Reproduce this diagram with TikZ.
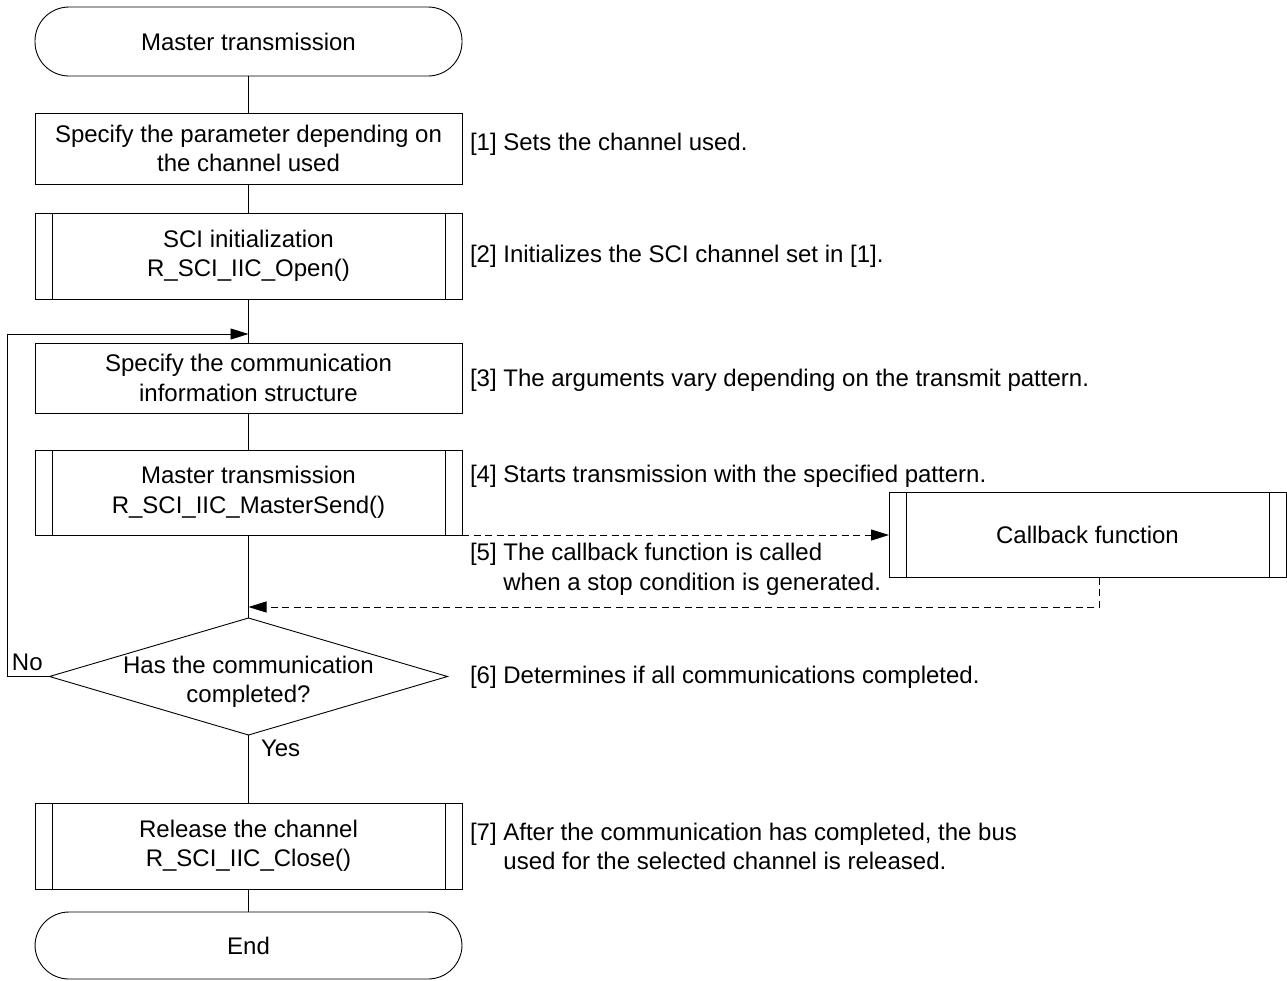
\documentclass[tikz,border=0pt]{standalone}
\usepackage{fontspec}
\setmainfont{Liberation Sans}
\usetikzlibrary{shapes.geometric,arrows.meta,calc}
\begin{document}
\begin{tikzpicture}[x=1pt,y=-1pt,
  font=\fontsize{24}{29.5}\selectfont,
  line width=0.9pt,
  every node/.style={inner sep=0pt, outer sep=0pt},
  box/.style={draw, rectangle, minimum width=427pt, align=center},
  subbox/.style={box, path picture={
     \draw ([xshift=17pt]path picture bounding box.north west) -- ([xshift=17pt]path picture bounding box.south west);
     \draw ([xshift=-17pt]path picture bounding box.north east) -- ([xshift=-17pt]path picture bounding box.south east);}},
  term/.style={draw, rectangle, rounded corners=34pt, minimum width=427pt, align=center},
  dec/.style={draw, diamond, minimum width=398pt, minimum height=117pt},
  arr/.style={-{Triangle[length=18pt,width=11pt]}},
  dsh/.style={dash pattern=on 7pt off 4.5pt},
  note/.style={anchor=west, align=left}
]
\useasboundingbox (0,0) rectangle (1287,980);

% main column
\node[term, minimum height=69pt] (start) at (248.5,41.5) {Master transmission};
\node[box, minimum height=71pt] (b1) at (248.5,148.5) {Specify the parameter depending on\\the channel used};
\node[subbox, minimum height=86pt] (b2) at (248.5,256) {SCI initialization\\R\_SCI\_IIC\_Open()};
\node[box, minimum height=70pt] (b3) at (248.5,378) {Specify the communication\\information structure};
\node[subbox, minimum height=85pt] (b4) at (248.5,492.5) {Master transmission\\R\_SCI\_IIC\_MasterSend()};
\node[subbox, minimum width=397pt, minimum height=85pt] (cb) at (1087.5,535) {Callback function};
\node[dec] (d) at (248.5,676.5) {};
\node[align=center] (dtext) at (248.5,682) {Has the communication\\completed?};
\node[subbox, minimum height=86pt] (b5) at (248.5,846) {Release the channel\\R\_SCI\_IIC\_Close()};
\node[term, minimum height=67pt] (end) at (248.5,945.5) {End};

% connectors
\draw (start) -- (b1);
\draw (b1) -- (b2);
\draw (b2) -- (b3);
\draw (b3) -- (b4);
\draw (b4) -- (d);
\draw (d) -- (b5);
\draw (b5) -- (end);

\coordinate (lc) at (7,676.5);
\coordinate (lp) at (248.5,334);
\draw[arr] (d.west) -- (lc) |- (lp);

\draw[dsh, arr] (b4.south east) -- (cb.west);
\coordinate (r1) at (1099,607);
\coordinate (rin) at (248.5,607);
\draw[dsh, arr] (r1 |- cb.south) -- (r1) -- (rin);

% labels
\node[anchor=west] (no) at (12,662) {No};
\node[anchor=west] (yes) at (261,748) {Yes};

% annotations
\node[note] (n1) at (470,144) {[1] Sets the channel used.};
\node[note] (n2) at (470,256) {[2] Initializes the SCI channel set in [1].};
\node[note] (n3) at (470,380) {[3] The arguments vary depending on the transmit pattern.};
\node[note] (n4) at (470,476) {[4] Starts transmission with the specified pattern.};
\node[note] (n5) at (470,569.5) {[5] The callback function is called\\\hspace*{33.4pt}when a stop condition is generated.};
\node[note] (n6) at (470,677) {[6] Determines if all communications completed.};
\node[note] (n7) at (470,846.5) {[7] After the communication has completed, the bus\\\hspace*{33.4pt}used for the selected channel is released.};
\end{tikzpicture}
\end{document}
